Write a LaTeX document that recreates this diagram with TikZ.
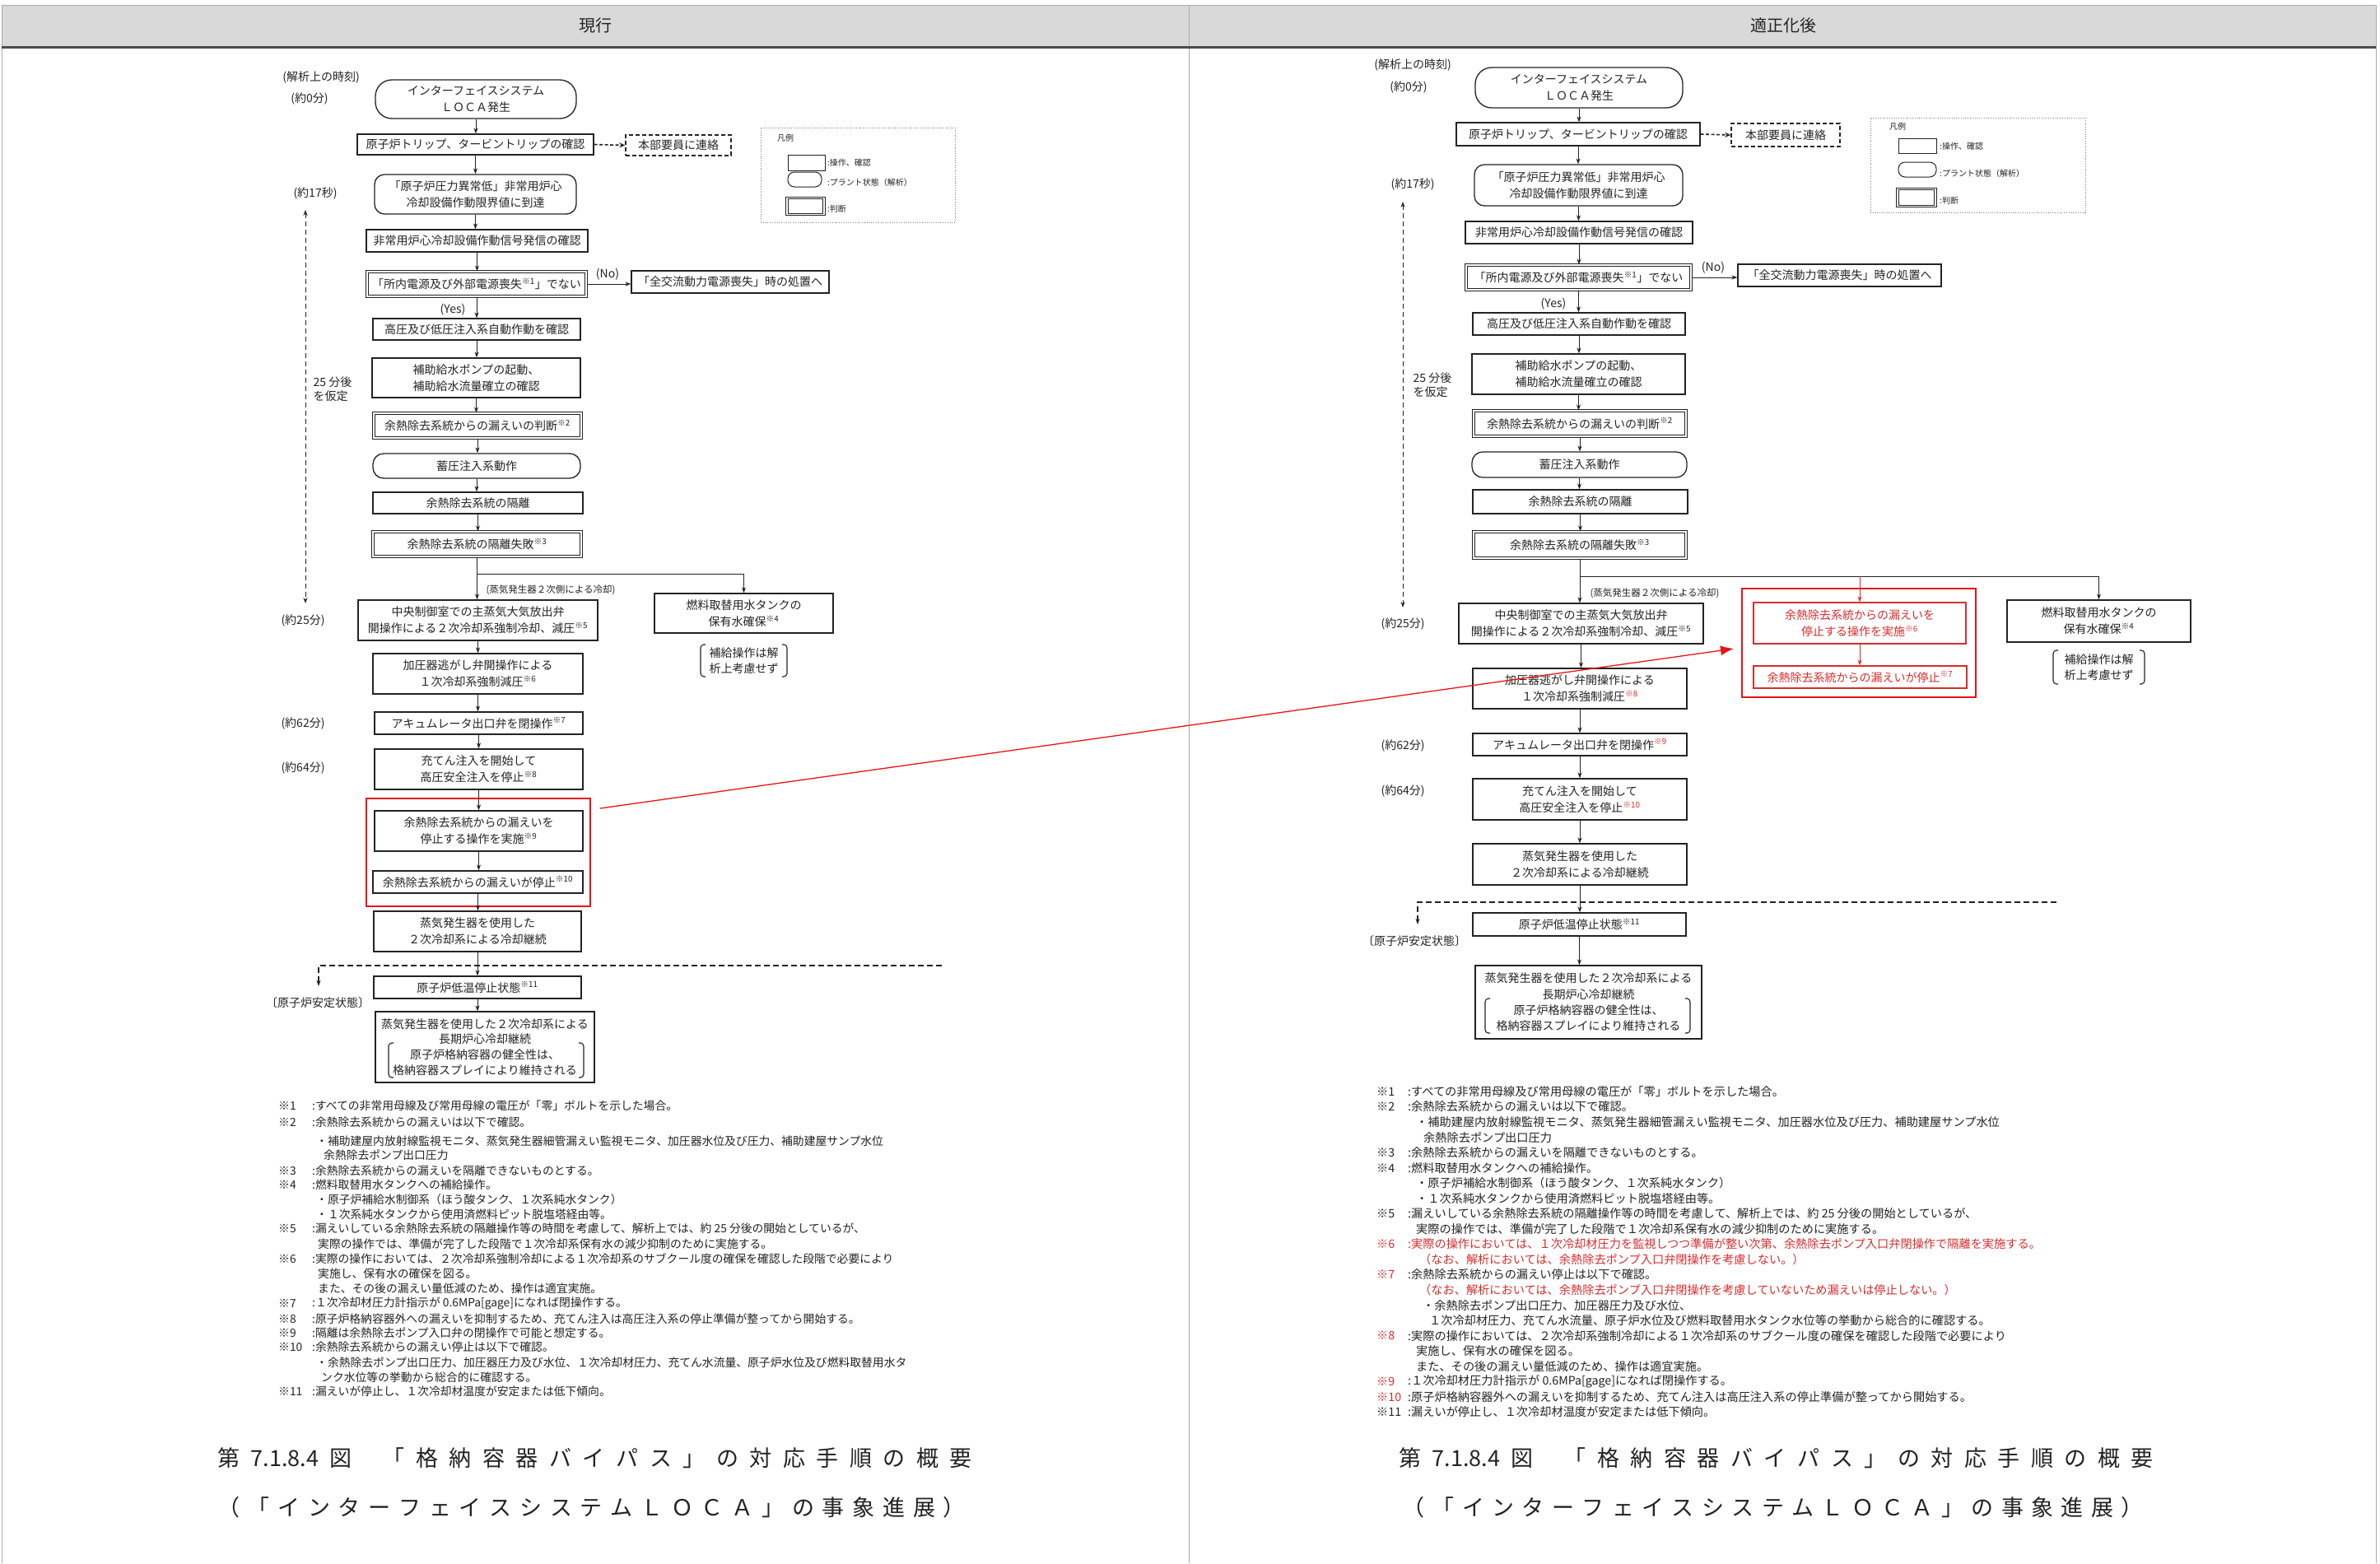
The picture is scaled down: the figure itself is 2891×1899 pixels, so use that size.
\documentclass[tikz,border=0pt]{standalone}
\usepackage{fontspec}
\setmainfont{Noto Sans CJK JP}
\usetikzlibrary{arrows.meta}
\definecolor{hdrgray}{RGB}{217,217,217}
\definecolor{framegray}{RGB}{170,170,170}
\definecolor{redline}{RGB}{232,20,20}
\definecolor{redtxt}{RGB}{215,45,45}
\definecolor{ink}{RGB}{35,35,35}
\newcommand\kome[1]{\textsuperscript{※#1}}
\newcommand\rkome[1]{\textsuperscript{\textcolor{redtxt}{※#1}}}
\newcommand\rtx[1]{\textcolor{redtxt}{#1}}
\makeatletter
\newcommand\spreadline[2]{\hbox to #1{\@tfor\spreadtok:=#2\do{\spreadtok\hfill}\unskip}}
\makeatother
\tikzset{
 sz/.style 2 args={minimum width=#1pt, minimum height=#2pt},
 bx/.style={draw=ink, line width=1.3pt, align=center, inner sep=0pt, text=ink, font=\fontsize{14}{20}\selectfont},
 dbx/.style={bx, double, double distance=2.2pt, line width=1.1pt},
 dsbx/.style={bx, dash pattern=on 5pt off 3pt, line width=1.5pt},
 rbx/.style={bx, draw=redtxt, text=redtxt, line width=1.2pt},
 redframe/.style={draw=redline, line width=2.6pt, inner sep=0pt},
 arr/.style={draw=ink, line width=1pt, -{Stealth[length=7pt,width=5pt]}},
 rarr/.style={draw=redtxt, line width=1pt, -{Stealth[length=7pt,width=5pt]}},
 bigrarr/.style={draw=redline, line width=1.3pt, -{Latex[length=16pt,width=12pt]}},
 dsarr/.style={draw=ink, line width=1.6pt, dash pattern=on 4pt off 2.5pt, -{Stealth[length=7pt,width=6pt]}},
 dsline/.style={draw=ink, line width=1.5pt, dash pattern=on 7pt off 4pt, -{Stealth[length=7pt,width=5pt]}},
 tmarr/.style={draw=ink, line width=0.9pt, dash pattern=on 6pt off 4pt, {Stealth[length=7pt,width=5pt]}-{Stealth[length=7pt,width=5pt]}},
 tm/.style={text=ink, inner sep=0pt, font=\fontsize{14}{17}\selectfont, align=left},
 sm/.style={text=ink, inner sep=0pt, font=\fontsize{11.5}{14}\selectfont},
 lg/.style={text=ink, inner sep=0pt, anchor=west, font=\fontsize{10}{12}\selectfont},
 lgbox/.style={draw=ink, line width=1pt, inner sep=0pt},
 ntl/.style={text=ink, inner sep=0pt, anchor=west, font=\fontsize{13.8}{16}\selectfont},
 ntr/.style={text=ink, inner sep=0pt, anchor=west, font=\fontsize{14.2}{16}\selectfont},
 brk/.style={draw=ink, line width=1.1pt, rounded corners=4pt},
 ttl/.style={text=ink, inner sep=0pt, font=\fontsize{27}{27}\selectfont},
 hd/.style={text=ink, inner sep=0pt, font=\fontsize{20}{20}\selectfont},
}
\begin{document}
\begin{tikzpicture}[x=1pt,y=-1pt]
\useasboundingbox (0,0) rectangle (2891,1899);
\fill[white] (0,0) rectangle (2891,1899);
% header and frame
\fill[hdrgray] (2,6) rectangle (2886,56);
\draw[framegray, line width=1pt] (2,1899) -- (2,6) -- (2886,6) -- (2886,1899);
\draw[framegray, line width=1pt] (1444,6) -- (1444,1899);
\draw[black!70, line width=2.5pt] (2,57.5) -- (2886,57.5);
\node[hd] (H1) at (723,31) {現行};
\node[hd] (H2) at (2166,31) {適正化後};

%================ LEFT PANEL ================
\node[tm] (lt0) at (390,94) {(解析上の時刻)};
\node[tm] (lt1) at (376,120) {(約0分)};
\node[tm] (lt2) at (383,235) {(約17秒)};
\node[tm] (lt3) at (404,473) {25 分後\\を仮定};
\node[tm] (lt4) at (368,754) {(約25分)};
\node[tm] (lt5) at (368,879) {(約62分)};
\node[tm] (lt6) at (368,933) {(約64分)};
\node[tm] (lt7) at (386,1218) {〔原子炉安定状態〕};
\coordinate (LV1) at (371,255);
\coordinate (LV2) at (371,733);
\draw[tmarr] (LV1) -- (LV2);

\node[bx, rounded corners=20pt, sz={244}{47}] (B1) at (578,120.5) {インターフェイスシステム\\ＬＯＣＡ発生};
\node[bx, sz={287}{25}] (B2) at (577.5,175.5) {原子炉トリップ、タービントリップの確認};
\node[dsbx, sz={128}{25}] (LD) at (824,176.5) {本部要員に連絡};
\node[bx, rounded corners=12pt, sz={245}{48}] (B3) at (577.5,236) {「原子炉圧力異常低」非常用炉心\\冷却設備作動限界値に到達};
\node[bx, sz={269}{27}] (B4) at (579.5,292.5) {非常用炉心冷却設備作動信号発信の確認};
\node[dbx, sz={266}{30}] (B5) at (579,345) {「所内電源及び外部電源喪失\kome{1}」でない};
\node[bx, sz={240}{27}] (B6) at (887,342.5) {「全交流動力電源喪失」時の処置へ};
\node[bx, sz={252}{26}] (B7) at (579,400) {高圧及び低圧注入系自動作動を確認};
\node[bx, sz={253}{48}] (B8) at (578.5,459) {補助給水ポンプの起動、\\補助給水流量確立の確認};
\node[dbx, sz={252}{30}] (B9) at (580,517) {余熱除去系統からの漏えいの判断\kome{2}};
\node[bx, rounded corners=13pt, sz={252}{30}] (B10) at (579,566) {蓄圧注入系動作};
\node[bx, sz={255}{26}] (B11) at (580.5,611) {余熱除去系統の隔離};
\node[dbx, sz={253}{30}] (B12) at (579.5,661) {余熱除去系統の隔離失敗\kome{3}};
\node[bx, sz={217}{48}] (B13) at (903.5,745) {燃料取替用水タンクの\\保有水確保\kome{4}};
\node[bx, draw=none, font=\fontsize{14}{19}\selectfont] (N13) at (903.5,802.5) {補給操作は解\\析上考慮せず};
\draw[brk] (857,783) -- (851,783) -- (851,822) -- (857,822);
\draw[brk] (950,783) -- (956,783) -- (956,822) -- (950,822);
\node[bx, sz={291}{49}] (B14) at (580.5,753.5) {中央制御室での主蒸気大気放出弁\\開操作による２次冷却系強制冷却、減圧\kome{5}};
\node[bx, sz={255}{49}] (B15) at (580.5,818.5) {加圧器逃がし弁開操作による\\１次冷却系強制減圧\kome{6}};
\node[bx, sz={253}{27}] (B16) at (581.5,878.5) {アキュムレータ出口弁を閉操作\kome{7}};
\node[bx, sz={253}{49}] (B17) at (581.5,934.5) {充てん注入を開始して\\高圧安全注入を停止\kome{8}};
\node[redframe, sz={272}{131}] (RL) at (581,1035.5) {};
\node[bx, sz={253}{49}] (B18) at (581.5,1009.5) {余熱除去系統からの漏えいを\\停止する操作を実施\kome{9}};
\node[bx, sz={255}{27}] (B19) at (580.5,1071.5) {余熱除去系統からの漏えいが停止\kome{10}};
\node[bx, sz={252}{49}] (B20) at (580,1131.5) {蒸気発生器を使用した\\２次冷却系による冷却継続};
\node[bx, sz={252}{27}] (B21) at (580,1199.5) {原子炉低温停止状態\kome{11}};
\node[bx, sz={266}{86}, font=\fontsize{14}{18.7}\selectfont] (B22) at (589,1272) {蒸気発生器を使用した２次冷却系による\\長期炉心冷却継続\\原子炉格納容器の健全性は、\\格納容器スプレイにより維持される};
\draw[brk] (478,1267) -- (472,1267) -- (472,1309) -- (478,1309);
\draw[brk] (703,1267) -- (709,1267) -- (709,1309) -- (703,1309);

\node[tm] (LNo) at (738,333) {(No)};
\node[tm] (LYes) at (550,376) {(Yes)};
\node[sm] (LSt) at (669,717) {(蒸気発生器２次側による冷却)};

\draw[arr] (B1.south) -- (B1.south |- B2.north);
\draw[arr] (B2.south) -- (B2.south |- B3.north);
\draw[dsarr] (B2.east) -- (LD.west);
\draw[arr] (B3.south) -- (B3.south |- B4.north);
\draw[arr] (B4.south) -- (B4.south |- B5.north);
\draw[arr] (B5.east) -- (B5.east -| B6.west);
\draw[arr] (B5.south) -- (B5.south |- B7.north);
\draw[arr] (B7.south) -- (B7.south |- B8.north);
\draw[arr] (B8.south) -- (B8.south |- B9.north);
\draw[arr] (B9.south) -- (B9.south |- B10.north);
\draw[arr] (B10.south) -- (B10.south |- B11.north);
\draw[arr] (B11.south) -- (B11.south |- B12.north);
\coordinate (LBr) at (579.5,697);
\draw[arr] (B12.south) -- (B12.south |- B14.north);
\draw[arr] (LBr) -| (B13.north);
\draw[arr] (B14.south) -- (B14.south |- B15.north);
\draw[arr] (B15.south) -- (B15.south |- B16.north);
\draw[arr] (B16.south) -- (B16.south |- B17.north);
\draw[arr] (B17.south) -- (B17.south |- B18.north);
\draw[arr] (B18.south) -- (B18.south |- B19.north);
\draw[arr] (B19.south) -- (B19.south |- B20.north);
\draw[arr] (B20.south) -- (B20.south |- B21.north);
\draw[arr] (B21.south) -- (B21.south |- B22.north);
\coordinate (LS1) at (1144,1173);
\coordinate (LS2) at (387,1173);
\coordinate (LS3) at (387,1198);
\draw[dsline] (LS1) -- (LS2) -- (LS3);

% legend left
\node[draw=ink!60, dotted, line width=0.8pt, sz={236}{115}] (LG) at (1042,212.5) {};
\node[lg] (LGt) at (944,168) {凡例};
\node[lgbox, sz={45}{19}] (LGa) at (979.5,197.5) {};
\node[lg] (LGal) at (1005,198) {:操作、確認};
\node[lgbox, rounded corners=8pt, sz={41}{18}] (LGb) at (977.5,218) {};
\node[lg] (LGbl) at (1005,222) {:プラント状態（解析）};
\node[lgbox, double, double distance=1.6pt, line width=0.9pt, sz={45}{20}] (LGc) at (978.5,250.5) {};
\node[lg] (LGcl) at (1005,254) {:判断};

% left notes
\node[ntl] (ln1k) at (338,1343) {※1};
\node[ntl] (ln1) at (379,1343) {:すべての非常用母線及び常用母線の電圧が「零」ボルトを示した場合。};
\node[ntl] (ln2k) at (338,1363) {※2};
\node[ntl] (ln2) at (379,1363) {:余熱除去系統からの漏えいは以下で確認。};
\node[ntl] (ln3) at (384,1386) {・補助建屋内放射線監視モニタ、蒸気発生器細管漏えい監視モニタ、加圧器水位及び圧力、補助建屋サンプ水位};
\node[ntl] (ln4) at (393,1403) {余熱除去ポンプ出口圧力};
\node[ntl] (ln5k) at (338,1422) {※3};
\node[ntl] (ln5) at (379,1422) {:余熱除去系統からの漏えいを隔離できないものとする。};
\node[ntl] (ln6k) at (338,1439) {※4};
\node[ntl] (ln6) at (379,1439) {:燃料取替用水タンクへの補給操作。};
\node[ntl] (ln7) at (384,1457) {・原子炉補給水制御系（ほう酸タンク、１次系純水タンク）};
\node[ntl] (ln8) at (384,1475) {・１次系純水タンクから使用済燃料ピット脱塩塔経由等。};
\node[ntl] (ln9k) at (338,1492) {※5};
\node[ntl] (ln9) at (379,1492) {:漏えいしている余熱除去系統の隔離操作等の時間を考慮して、解析上では、約 25 分後の開始としているが、};
\node[ntl] (ln10) at (386,1511) {実際の操作では、準備が完了した段階で１次冷却系保有水の減少抑制のために実施する。};
\node[ntl] (ln11k) at (338,1529) {※6};
\node[ntl] (ln11) at (379,1529) {:実際の操作においては、２次冷却系強制冷却による１次冷却系のサブクール度の確保を確認した段階で必要により};
\node[ntl] (ln12) at (386,1547) {実施し、保有水の確保を図る。};
\node[ntl] (ln13) at (386,1565) {また、その後の漏えい量低減のため、操作は適宜実施。};
\node[ntl] (ln14k) at (338,1583) {※7};
\node[ntl] (ln14) at (379,1583) {:１次冷却材圧力計指示が 0.6MPa[gage]になれば閉操作する。};
\node[ntl] (ln15k) at (338,1602) {※8};
\node[ntl] (ln15) at (379,1602) {:原子炉格納容器外への漏えいを抑制するため、充てん注入は高圧注入系の停止準備が整ってから開始する。};
\node[ntl] (ln16k) at (338,1619) {※9};
\node[ntl] (ln16) at (379,1619) {:隔離は余熱除去ポンプ入口弁の閉操作で可能と想定する。};
\node[ntl] (ln17k) at (338,1636) {※10};
\node[ntl] (ln17) at (379,1636) {:余熱除去系統からの漏えい停止は以下で確認。};
\node[ntl] (ln18) at (384,1655) {・余熱除去ポンプ出口圧力、加圧器圧力及び水位、１次冷却材圧力、充てん水流量、原子炉水位及び燃料取替用水タ};
\node[ntl] (ln19) at (390,1673) {ンク水位等の挙動から総合的に確認する。};
\node[ntl] (ln20k) at (338,1690) {※11};
\node[ntl] (ln20) at (379,1690) {:漏えいが停止し、１次冷却材温度が安定または低下傾向。};

% left title
\node[ttl] (T1) at (722.5,1771) {\spreadline{917pt}{第{7.1.8.4}図{\hskip10pt}「格納容器バイパス」の対応手順の概要}};
\node[ttl] (T2) at (718.5,1831) {\spreadline{909pt}{（「インターフェイスシステムＬＯＣＡ」の事象進展）}};

%================ RIGHT PANEL ================
\node[tm] (rt0) at (1716,79) {(解析上の時刻)};
\node[tm] (rt1) at (1711,106) {(約0分)};
\node[tm] (rt2) at (1716,224) {(約17秒)};
\node[tm] (rt3) at (1740,468) {25 分後\\を仮定};
\node[tm] (rt4) at (1704,758) {(約25分)};
\node[tm] (rt5) at (1704,906) {(約62分)};
\node[tm] (rt6) at (1704,961) {(約64分)};
\node[tm] (rt7) at (1718,1143) {〔原子炉安定状態〕};
\coordinate (RV1) at (1704,245);
\coordinate (RV2) at (1704,738);
\draw[tmarr] (RV1) -- (RV2);

\node[bx, rounded corners=20pt, sz={252}{49}] (R1) at (1918,106.5) {インターフェイスシステム\\ＬＯＣＡ発生};
\node[bx, sz={296}{28}] (R2) at (1917,163) {原子炉トリップ、タービントリップの確認};
\node[dsbx, sz={132}{28}] (RD) at (2169,164) {本部要員に連絡};
\node[bx, rounded corners=12pt, sz={253}{50}] (R3) at (1917.5,225) {「原子炉圧力異常低」非常用炉心\\冷却設備作動限界値に到達};
\node[bx, sz={276}{27}] (R4) at (1918,282.5) {非常用炉心冷却設備作動信号発信の確認};
\node[dbx, sz={273}{30}] (R5) at (1917.5,337) {「所内電源及び外部電源喪失\kome{1}」でない};
\node[bx, sz={247}{27}] (R6) at (2234.5,334.5) {「全交流動力電源喪失」時の処置へ};
\node[bx, sz={258}{27}] (R7) at (1918,393.5) {高圧及び低圧注入系自動作動を確認};
\node[bx, sz={259}{49}] (R8) at (1917.5,454.5) {補助給水ポンプの起動、\\補助給水流量確立の確認};
\node[dbx, sz={258}{31}] (R9) at (1919,514.5) {余熱除去系統からの漏えいの判断\kome{2}};
\node[bx, rounded corners=13pt, sz={261}{31}] (R10) at (1918.5,564.5) {蓄圧注入系動作};
\node[bx, sz={261}{29}] (R11) at (1919.5,609.5) {余熱除去系統の隔離};
\node[dbx, sz={258}{32}] (R12) at (1919,662) {余熱除去系統の隔離失敗\kome{3}};
\node[bx, sz={297}{49}] (R14) at (1920.5,757.5) {中央制御室での主蒸気大気放出弁\\開操作による２次冷却系強制冷却、減圧\kome{5}};
\node[redframe, sz={284}{132}] (RR) at (2258,781) {};
\node[rbx, sz={258}{50}] (RA) at (2259,757) {余熱除去系統からの漏えいを\\停止する操作を実施\kome{6}};
\node[rbx, sz={259}{27}] (RB) at (2259.5,822.5) {余熱除去系統からの漏えいが停止\kome{7}};
\node[bx, sz={223}{51}] (R13) at (2549.5,754.5) {燃料取替用水タンクの\\保有水確保\kome{4}};
\node[bx, draw=none, font=\fontsize{14}{19}\selectfont] (RN13) at (2549.5,810.5) {補給操作は解\\析上考慮せず};
\draw[brk] (2500,790) -- (2494,790) -- (2494,831) -- (2500,831);
\draw[brk] (2599,790) -- (2605,790) -- (2605,831) -- (2599,831);
\node[bx, sz={260}{49}] (R15) at (1919,836.5) {加圧器逃がし弁開操作による\\１次冷却系強制減圧\rkome{8}};
\node[bx, sz={260}{27}] (R16) at (1919,904.5) {アキュムレータ出口弁を閉操作\rkome{9}};
\node[bx, sz={260}{50}] (R17) at (1919,971) {充てん注入を開始して\\高圧安全注入を停止\rkome{10}};
\node[bx, sz={260}{50}] (R20) at (1919,1050) {蒸気発生器を使用した\\２次冷却系による冷却継続};
\node[bx, sz={259}{28}] (R21) at (1918.5,1123) {原子炉低温停止状態\kome{11}};
\node[bx, sz={275}{89}, font=\fontsize{14}{19.3}\selectfont] (R22) at (1929.5,1217.5) {蒸気発生器を使用した２次冷却系による\\長期炉心冷却継続\\原子炉格納容器の健全性は、\\格納容器スプレイにより維持される};
\draw[brk] (1810,1213) -- (1804,1213) -- (1804,1255) -- (1810,1255);
\draw[brk] (2047,1213) -- (2053,1213) -- (2053,1255) -- (2047,1255);

\node[tm] (RNo) at (2081,325) {(No)};
\node[tm] (RYes) at (1887,369) {(Yes)};
\node[sm] (RSt) at (2010,721) {(蒸気発生器２次側による冷却)};

\draw[arr] (R1.south) -- (R1.south |- R2.north);
\draw[arr] (R2.south) -- (R2.south |- R3.north);
\draw[dsarr] (R2.east) -- (RD.west);
\draw[arr] (R3.south) -- (R3.south |- R4.north);
\draw[arr] (R4.south) -- (R4.south |- R5.north);
\draw[arr] (R5.east) -- (R5.east -| R6.west);
\draw[arr] (R5.south) -- (R5.south |- R7.north);
\draw[arr] (R7.south) -- (R7.south |- R8.north);
\draw[arr] (R8.south) -- (R8.south |- R9.north);
\draw[arr] (R9.south) -- (R9.south |- R10.north);
\draw[arr] (R10.south) -- (R10.south |- R11.north);
\draw[arr] (R11.south) -- (R11.south |- R12.north);
\coordinate (RBr) at (1919,700);
\draw[arr] (R12.south) -- (R12.south |- R14.north);
\draw[arr] (RBr) -| (R13.north);
\draw[rarr] (RA.north |- RBr) -- (RA.north);
\draw[rarr] (RA.south) -- (RA.south |- RB.north);
\draw[arr] (R14.south) -- (R14.south |- R15.north);
\draw[arr] (R15.south) -- (R15.south |- R16.north);
\draw[arr] (R16.south) -- (R16.south |- R17.north);
\draw[arr] (R17.south) -- (R17.south |- R20.north);
\draw[arr] (R20.south) -- (R20.south |- R21.north);
\draw[arr] (R21.south) -- (R21.south |- R22.north);
\coordinate (RS1) at (2498,1096);
\coordinate (RS2) at (1722,1096);
\coordinate (RS3) at (1722,1123);
\draw[dsline] (RS1) -- (RS2) -- (RS3);

% legend right
\node[draw=ink!60, dotted, line width=0.8pt, sz={261}{115}] (RG) at (2402.5,200.5) {};
\node[lg] (RGt) at (2295,154) {凡例};
\node[lgbox, sz={46}{18}] (RGa) at (2329,177) {};
\node[lg] (RGal) at (2356,178) {:操作、確認};
\node[lgbox, rounded corners=8pt, sz={46}{18}] (RGb) at (2329,206) {};
\node[lg] (RGbl) at (2356,211) {:プラント状態（解析）};
\node[lgbox, double, double distance=1.6pt, line width=0.9pt, sz={46}{21}] (RGc) at (2328,240) {};
\node[lg] (RGcl) at (2356,244) {:判断};

% right notes
\node[ntr] (rn1k) at (1672,1326) {※1};
\node[ntr] (rn1) at (1710,1326) {:すべての非常用母線及び常用母線の電圧が「零」ボルトを示した場合。};
\node[ntr] (rn2k) at (1672,1344.5) {※2};
\node[ntr] (rn2) at (1710,1344.5) {:余熱除去系統からの漏えいは以下で確認。};
\node[ntr] (rn3) at (1720,1363) {・補助建屋内放射線監視モニタ、蒸気発生器細管漏えい監視モニタ、加圧器水位及び圧力、補助建屋サンプ水位};
\node[ntr] (rn4) at (1729,1381.6) {余熱除去ポンプ出口圧力};
\node[ntr] (rn5k) at (1672,1400) {※3};
\node[ntr] (rn5) at (1710,1400) {:余熱除去系統からの漏えいを隔離できないものとする。};
\node[ntr] (rn6k) at (1672,1418.8) {※4};
\node[ntr] (rn6) at (1710,1418.8) {:燃料取替用水タンクへの補給操作。};
\node[ntr] (rn7) at (1720,1437.3) {・原子炉補給水制御系（ほう酸タンク、１次系純水タンク）};
\node[ntr] (rn8) at (1720,1455.8) {・１次系純水タンクから使用済燃料ピット脱塩塔経由等。};
\node[ntr] (rn9k) at (1672,1474.4) {※5};
\node[ntr] (rn9) at (1710,1474.4) {:漏えいしている余熱除去系統の隔離操作等の時間を考慮して、解析上では、約 25 分後の開始としているが、};
\node[ntr] (rn10) at (1720,1493) {実際の操作では、準備が完了した段階で１次冷却系保有水の減少抑制のために実施する。};
\node[ntr, text=redtxt] (rn11k) at (1672,1511.5) {※6};
\node[ntr, text=redtxt] (rn11) at (1710,1511.5) {:実際の操作においては、１次冷却材圧力を監視しつつ準備が整い次第、余熱除去ポンプ入口弁閉操作で隔離を実施する。};
\node[ntr, text=redtxt] (rn12) at (1724,1530) {（なお、解析においては、余熱除去ポンプ入口弁閉操作を考慮しない。）};
\node[ntr, text=redtxt] (rn13k) at (1672,1548.6) {※7};
\node[ntr] (rn13) at (1710,1548.6) {:余熱除去系統からの漏えい停止は以下で確認。};
\node[ntr, text=redtxt] (rn14) at (1724,1567) {（なお、解析においては、余熱除去ポンプ入口弁閉操作を考慮していないため漏えいは停止しない。）};
\node[ntr] (rn15) at (1728,1585.7) {・余熱除去ポンプ出口圧力、加圧器圧力及び水位、};
\node[ntr] (rn16) at (1736,1604) {１次冷却材圧力、充てん水流量、原子炉水位及び燃料取替用水タンク水位等の挙動から総合的に確認する。};
\node[ntr, text=redtxt] (rn17k) at (1672,1622.8) {※8};
\node[ntr] (rn17) at (1710,1622.8) {:実際の操作においては、２次冷却系強制冷却による１次冷却系のサブクール度の確保を確認した段階で必要により};
\node[ntr] (rn18) at (1720,1641.3) {実施し、保有水の確保を図る。};
\node[ntr] (rn19) at (1720,1660) {また、その後の漏えい量低減のため、操作は適宜実施。};
\node[ntr, text=redtxt] (rn20k) at (1672,1678.5) {※9};
\node[ntr] (rn20) at (1710,1678.5) {:１次冷却材圧力計指示が 0.6MPa[gage]になれば閉操作する。};
\node[ntr, text=redtxt] (rn21k) at (1672,1697) {※10};
\node[ntr] (rn21) at (1710,1697) {:原子炉格納容器外への漏えいを抑制するため、充てん注入は高圧注入系の停止準備が整ってから開始する。};
\node[ntr] (rn22k) at (1672,1715.5) {※11};
\node[ntr] (rn22) at (1710,1715.5) {:漏えいが停止し、１次冷却材温度が安定または低下傾向。};

% right title
\node[ttl] (T3) at (2157.5,1771) {\spreadline{917pt}{第{7.1.8.4}図{\hskip10pt}「格納容器バイパス」の対応手順の概要}};
\node[ttl] (T4) at (2153.5,1831) {\spreadline{900pt}{（「インターフェイスシステムＬＯＣＡ」の事象進展）}};

% red cross-panel arrow
\coordinate (RX0) at (729,982);
\coordinate (RX1) at (2106,788);
\draw[bigrarr] (RX0) -- (RX1);
\end{tikzpicture}
\end{document}
